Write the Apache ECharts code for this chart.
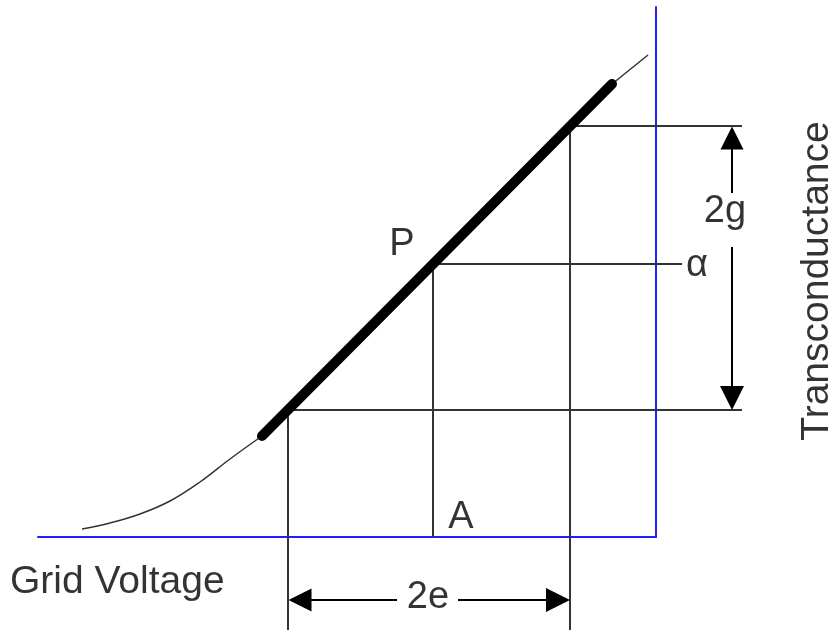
<!DOCTYPE html>
<html>
<head>
<meta charset="utf-8">
<script src="https://cdn.jsdelivr.net/npm/echarts@6/dist/echarts.min.js"></script>
<style>
  html, body { margin: 0; padding: 0; background: #fff; }
  #main { width: 836px; height: 630px; }
</style>
</head>
<body>
<div id="main"></div>
<script>
// diagram units: x = grid voltage, y = plate current (origin at the axis corner)
const lowerCurve = [[44, 8], [72, 14], [102, 23], [132, 36], [162, 55], [192, 78], [224, 101]]
const tangentLine = [[224, 101], [574, 453]]
const upperCurve = [[574, 453], [610, 482]]

// construction lines
const guideLines = [
  [[250, 127], [704, 127]],
  [[395, 273], [644, 273]],
  [[532, 411], [704, 411]],
  [[250, 127], [250, -93]],
  [[395, 273], [395, 0]],
  [[532, 411], [532, -93]]
]
// dimension arrows, first point = centre of the arrow head
const arrowStart = [
  [[694, 399], [694, 344]],
  [[262, -63], [359, -63]]
]
// dimension arrows, last point = centre of the arrow head
const arrowEnd = [
  [[694, 290], [694, 139]],
  [[420, -63], [520, -63]]
]

const labelNames = ['P', 'α', 'A', '2g', '2e']
const labelPos = [[364, 292], [659, 271], [423, 19], [687, 325], [390, -61]]

var myChart = echarts.init(document.getElementById('main'))

const textBase = {
  show: true,
  position: 'inside',
  formatter: '{b}',
  color: '#000',
  textBorderWidth: 0,
  fontFamily: 'Liberation Sans, Arial, sans-serif',
  fontSize: 38
}

let option = {
  animation: false,
  grid: { left: 38, right: 180, top: 7, bottom: 93 },
  xAxis: {
    type: 'value',
    min: 0,
    max: 618,
    axisLine: { show: true, onZero: false, lineStyle: { color: '#1f1fff', width: 2 } },
    axisTick: { show: false },
    axisLabel: { show: false },
    splitLine: { show: false }
  },
  yAxis: {
    type: 'value',
    position: 'right',
    min: 0,
    max: 530,
    axisLine: { show: true, onZero: false, lineStyle: { color: '#1f1fff', width: 2 } },
    axisTick: { show: false },
    axisLabel: { show: false },
    splitLine: { show: false }
  },
  series: [
    {
      type: 'line',
      data: lowerCurve,
      smooth: 0.4,
      showSymbol: false,
      clip: false,
      lineStyle: { color: '#333', width: 1.5 }
    },
    {
      type: 'line',
      data: upperCurve,
      showSymbol: false,
      clip: false,
      lineStyle: { color: '#333', width: 1.5 }
    },
    {
      type: 'lines',
      coordinateSystem: 'cartesian2d',
      clip: false,
      data: guideLines.map((c) => ({ coords: c })),
      lineStyle: { color: '#333', width: 2, opacity: 1 }
    },
    {
      type: 'lines',
      coordinateSystem: 'cartesian2d',
      clip: false,
      symbol: ['triangle', 'none'],
      symbolSize: [23, 24],
      data: arrowStart.map((c) => ({ coords: c })),
      lineStyle: { color: '#000', width: 2, opacity: 1 }
    },
    {
      type: 'lines',
      coordinateSystem: 'cartesian2d',
      clip: false,
      symbol: ['none', 'triangle'],
      symbolSize: [23, 24],
      data: arrowEnd.map((c) => ({ coords: c })),
      lineStyle: { color: '#000', width: 2, opacity: 1 }
    },
    {
      type: 'line',
      data: tangentLine,
      showSymbol: false,
      clip: false,
      lineStyle: { color: '#000', width: 10, cap: 'round' }
    },
    {
      type: 'scatter',
      symbolSize: 0,
      clip: false,
      label: textBase,
      data: labelNames.map((n, i) => ({ name: n, value: labelPos[i] })).concat([
        {
          name: 'Grid Voltage',
          value: [-28, -45],
          label: { align: 'left', fontSize: 39, color: '#000' }
        },
        {
          name: 'Transconductance',
          value: [779, 256],
          label: { rotate: 90, fontSize: 39, color: '#000' }
        }
      ])
    }
  ]
}
myChart.setOption(option)
</script>
</body>
</html>
